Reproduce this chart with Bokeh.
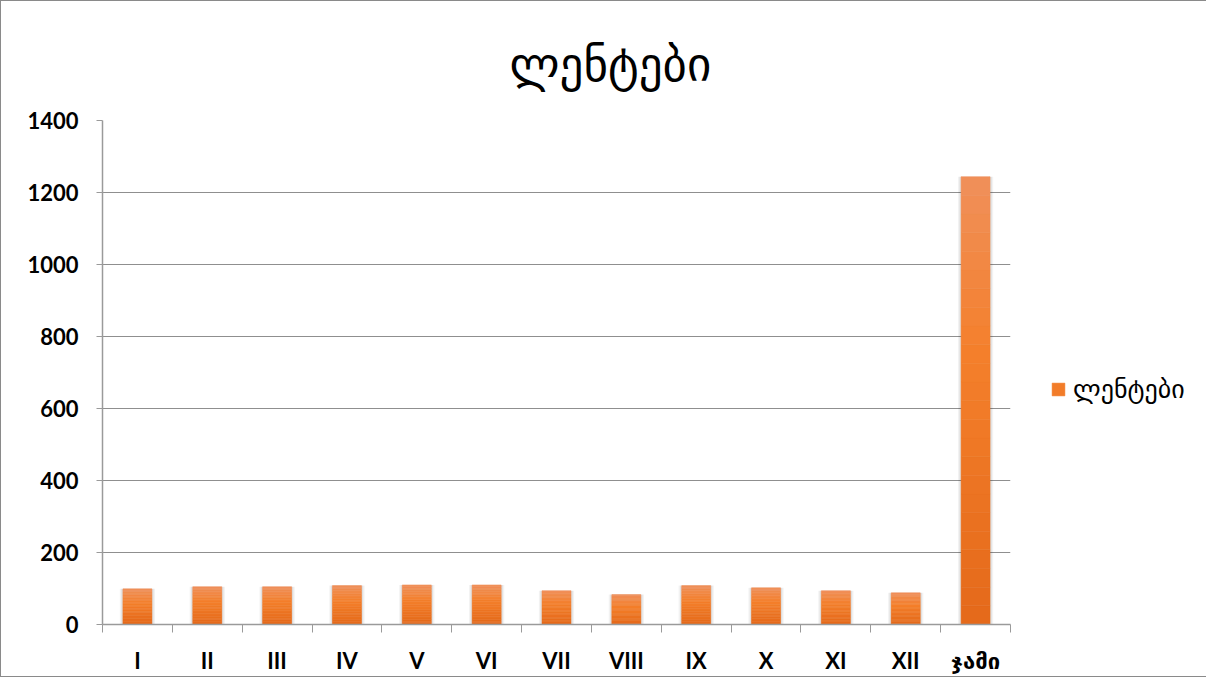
from bokeh.plotting import figure
from bokeh.models import Range1d, FixedTicker, Legend, LegendItem
from bokeh.embed import file_html
from bokeh.resources import INLINE

# ---- data ----
categories = ["I", "II", "III", "IV", "V", "VI", "VII", "VIII", "IX", "X", "XI", "XII", "ჯამი"]
values = [99, 105, 105, 108, 110, 110, 94, 83, 108, 102, 94, 88, 1244]
y_ticks = [0, 200, 400, 600, 800, 1000, 1200, 1400]
chart_title = "ლენტები"
series_name = "ლენტები"

n = len(categories)
centers = [i + 0.5 for i in range(n)]
boundaries = list(range(n + 1))

FRAME_L, FRAME_T, FRAME_W, FRAME_H = 101, 119, 908, 504
TOTAL_W, TOTAL_H = 1188, 672

p = figure(
    frame_width=FRAME_W, frame_height=FRAME_H,
    x_range=Range1d(0, n), y_range=Range1d(y_ticks[0], y_ticks[-1]),
    output_backend="svg", toolbar_location=None,
    min_border_left=FRAME_L, min_border_top=FRAME_T,
    min_border_right=TOTAL_W - FRAME_L - FRAME_W,
    min_border_bottom=TOTAL_H - FRAME_T - FRAME_H,
)
p.outline_line_color = None
p.background_fill_color = "white"
p.border_fill_color = "white"
p.styles = {"border": "1px solid #8a8a8a"}

# ---- bars: shadow + vertical gradient bands ----
bw = 0.415
p.vbar(x=centers, top=values, bottom=0, width=bw + 0.09, fill_color="#000000",
       fill_alpha=0.05, line_color=None)
p.vbar(x=centers, top=values, bottom=0, width=bw + 0.05, fill_color="#000000",
       fill_alpha=0.07, line_color=None)

def lerp(c1, c2, t):
    a = [int(c1[i:i + 2], 16) for i in (1, 3, 5)]
    b = [int(c2[i:i + 2], 16) for i in (1, 3, 5)]
    return "#%02x%02x%02x" % tuple(round(a[k] + (b[k] - a[k]) * t) for k in range(3))

c_bottom, c_mid, c_top = "#e4691a", "#f47f2b", "#f0905a"
N = 24
mid_r = None
for k in range(N):
    t = (k + 0.5) / N  # 0 bottom -> 1 top
    if t < 0.6:
        col = lerp(c_bottom, c_mid, t / 0.6)
    else:
        col = lerp(c_mid, c_top, (t - 0.6) / 0.4)
    r = p.vbar(x=centers, bottom=[v * k / N for v in values],
               top=[v * (k + 1) / N for v in values], width=bw,
               fill_color=col, line_color=col, line_width=0.5)
    if k == N // 2:
        mid_r = r

# ---- axes ----
font = "Lato, DejaVu Sans"
xa = p.xaxis[0]
xa.ticker = FixedTicker(ticks=centers, minor_ticks=boundaries)
xa.major_label_overrides = {c: lab for c, lab in zip(centers, categories)}
xa.major_tick_line_color = None
xa.major_tick_out = 0
xa.major_tick_in = 0
xa.minor_tick_line_color = "#9a9a9a"
xa.minor_tick_out = 8
xa.minor_tick_in = 0
xa.axis_line_color = "#9a9a9a"
xa.axis_line_width = 1.5
xa.major_label_text_font = font
xa.major_label_text_font_style = "bold"
xa.major_label_text_font_size = "22px"
xa.major_label_text_color = "black"
xa.major_label_standoff = 14

ya = p.yaxis[0]
ya.ticker = FixedTicker(ticks=y_ticks)
ya.minor_tick_line_color = None
ya.major_tick_line_color = "#9a9a9a"
ya.major_tick_out = 6
ya.major_tick_in = 0
ya.axis_line_color = "#9a9a9a"
ya.axis_line_width = 1.5
ya.major_label_text_font = font
ya.major_label_text_font_style = "bold"
ya.major_label_text_font_size = "22px"
ya.major_label_text_color = "black"
ya.major_label_standoff = 18

p.xgrid.grid_line_color = None
p.ygrid.ticker = FixedTicker(ticks=y_ticks)
p.ygrid.grid_line_color = "#8f8f8f"
p.ygrid.grid_line_width = 1

# ---- title ----
p.title.text = chart_title
p.title.text_font = "DejaVu Sans"
p.title.text_font_size = "47px"
p.title.text_font_style = "normal"
p.title.text_color = "black"
p.title.align = "left"
p.title.offset = 407
p.title.standoff = 57

# ---- legend ----
legend = Legend(items=[LegendItem(label=series_name, renderers=[mid_r])],
                location=(40, 220), orientation="vertical",
                padding=0, margin=0, spacing=0,
                glyph_width=16, glyph_height=16, label_standoff=7,
                label_height=24,
                label_text_font="DejaVu Sans", label_text_font_size="26px",
                label_text_color="black", border_line_color=None,
                background_fill_alpha=0)
p.add_layout(legend, "right")

open("out.html", "w").write(file_html(p, INLINE))
